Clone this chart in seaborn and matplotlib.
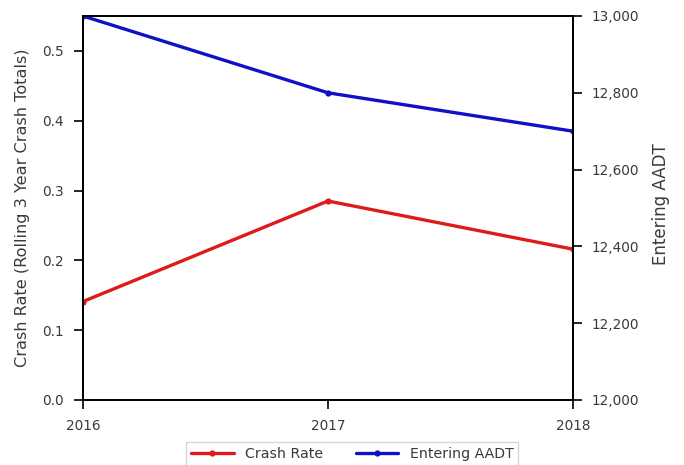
import matplotlib
matplotlib.use("Agg")
import matplotlib.pyplot as plt
import matplotlib.ticker as mticker
import seaborn as sns
import pandas as pd

years = [2016, 2017, 2018]
crash_rate = [0.141, 0.285, 0.216]
entering_aadt = [13000, 12800, 12700]

sns.set_style("white")
plt.rcParams["font.family"] = ["DejaVu Sans"]
text_color = "#3a3a3a"

df = pd.DataFrame({"year": years, "crash": crash_rate, "aadt": entering_aadt})

fig = plt.figure(figsize=(6.84, 4.65), dpi=100)
ax = fig.add_axes([0.1213, 0.1398, 0.7164, 0.8258])
ax2 = ax.twinx()

red = "#dd1c1a"
blue = "#1010c8"

sns.lineplot(data=df, x="year", y="crash", ax=ax, color=red, linewidth=2.4,
             marker="o", markersize=4.5, markeredgewidth=0, label="Crash Rate", legend=False)
sns.lineplot(data=df, x="year", y="aadt", ax=ax2, color=blue, linewidth=2.4,
             marker="o", markersize=4.5, markeredgewidth=0, label="Entering AADT", legend=False)

ax.set_xlim(2016, 2018)
ax.set_ylim(0, 0.55)
ax2.set_ylim(12000, 13000)
ax.set_xticks(years)
ax.set_yticks([0.0, 0.1, 0.2, 0.3, 0.4, 0.5])
ax.yaxis.set_major_formatter(mticker.FormatStrFormatter("%.1f"))
ax2.set_yticks([12000, 12200, 12400, 12600, 12800, 13000])
ax2.yaxis.set_major_formatter(mticker.StrMethodFormatter("{x:,.0f}"))

ax.set_xlabel("")
ax.set_ylabel("Crash Rate (Rolling 3 Year Crash Totals)", fontsize=11.6, color=text_color)
ax.yaxis.set_label_coords(-0.108, 0.5)
ax2.set_ylabel("Entering AADT", fontsize=12, color=text_color)
ax2.yaxis.set_label_coords(1.162, 0.51)

for a in (ax, ax2):
    for s in a.spines.values():
        s.set_color("black")
        s.set_linewidth(1.4)
    a.tick_params(axis="both", which="major", direction="out", length=6.5, width=1.2,
                  color="black", labelsize=9.8, labelcolor=text_color, pad=7)
ax.tick_params(axis="x", bottom=True, pad=7.5)
ax.tick_params(axis="y", left=True)
ax2.tick_params(axis="y", right=True)

h1, l1 = ax.get_legend_handles_labels()
h2, l2 = ax2.get_legend_handles_labels()
leg = fig.legend(h1 + h2, l1 + l2, loc="center", bbox_to_anchor=(0.515, 0.024),
                 ncol=2, frameon=True, fontsize=10.2, handlelength=3, columnspacing=2.3,
                 borderpad=0.35, fancybox=False, edgecolor="#cccccc")
for t in leg.get_texts():
    t.set_color(text_color)

fig.savefig("out.png", dpi=100)
